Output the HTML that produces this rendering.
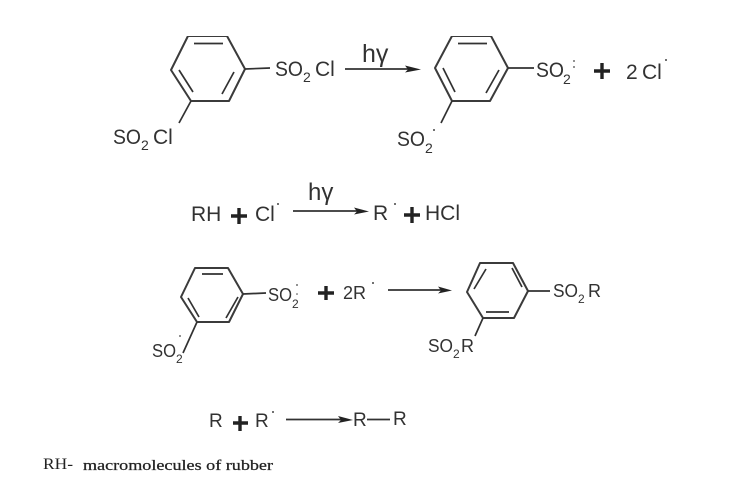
<!DOCTYPE html>
<html><head><meta charset="utf-8">
<style>
html,body{margin:0;padding:0;background:#fff;width:738px;height:486px;overflow:hidden}
svg{display:block}
text{font-family:"Liberation Sans",sans-serif;fill:#333}
.l{stroke:#3a3a3a;stroke-width:2;fill:none;stroke-linejoin:round}
.t{stroke:#333;stroke-width:1.7;fill:none}
.p{stroke:#222;stroke-width:3.4;fill:none}
.h{fill:#222}
.d{fill:#444}
</style></head><body>
<svg width="738" height="486" viewBox="0 0 738 486" xmlns="http://www.w3.org/2000/svg">
<defs><filter id="b" x="0" y="0" width="100%" height="100%"><feGaussianBlur stdDeviation="0.35"/></filter></defs>
<g filter="url(#b)">

<!-- Ring 1 -->
<polygon class="l" points="188,36 227,36 245,69 229,101 191,101 171,70"/>
<path class="t" d="M194,43.500H223M234,72L222,94M179,70L193,92M245,69L270,68M191,101L179,123"/>
<text x="275" y="76" font-size="21" textLength="28" lengthAdjust="spacingAndGlyphs">SO</text><text x="303" y="82" font-size="14">2</text><text x="315" y="76" font-size="21">Cl</text>
<text x="113" y="144" font-size="21" textLength="28" lengthAdjust="spacingAndGlyphs">SO</text><text x="141" y="150" font-size="14">2</text><text x="153" y="144" font-size="21">Cl</text>

<!-- Arrow 1 -->
<path class="t" d="M345,69H412"/><polygon class="h" points="405,65.500 421,69.500 405,72.500 408,69.500"/>
<text x="362" y="62" font-size="25">hγ</text>

<!-- Ring 2 -->
<polygon class="l" points="452,36 491,36 508,68 490,101 452,101 435,68"/>
<path class="t" d="M458,43.500H487M499,70L486,93M443,68L455,92M508,68L534,68M452,101L441,123"/>
<text x="536" y="77" font-size="21" textLength="28" lengthAdjust="spacingAndGlyphs">SO</text><text x="563" y="84" font-size="14">2</text><circle class="d" cx="574" cy="61" r=".9"/><circle class="d" cx="574" cy="67" r=".9"/>
<path class="p" d="M594,71H610M602,63V79"/>
<text x="626" y="79" font-size="21">2</text><text x="642" y="79" font-size="21">Cl</text><circle class="d" cx="666" cy="60" r="1"/>
<text x="397" y="146" font-size="21" textLength="28" lengthAdjust="spacingAndGlyphs">SO</text><text x="425" y="153" font-size="14">2</text><circle class="d" cx="434" cy="130" r="1"/>

<!-- Row 2 -->
<text x="191" y="221" font-size="21">RH</text>
<path class="p" d="M231,216H247M239,208V224"/>
<text x="255" y="221" font-size="21">Cl</text><circle class="d" cx="278" cy="204" r="1"/>
<path class="t" d="M293,211H362"/><polygon class="h" points="354,207.500 369,211.500 354,214.500 357,211.500"/>
<text x="308" y="200" font-size="24">hγ</text>
<text x="373" y="220" font-size="21">R</text><circle class="d" cx="395" cy="204" r="1"/>
<path class="p" d="M404,215H420M412,207V223"/>
<text x="425" y="220" font-size="21">HCl</text>

<!-- Ring 3 -->
<polygon class="l" points="195,268 228,268 243,294 229,322 197,322 181,297"/>
<path class="t" d="M202,274H223M238,297L226,318M188,298L199,317M243,294L266,293M197,322L183,353"/>
<text x="268" y="301" font-size="18" textLength="24" lengthAdjust="spacingAndGlyphs">SO</text><text x="292" y="308" font-size="12">2</text><circle class="d" cx="297" cy="285" r=".9"/><circle class="d" cx="297" cy="294" r=".8"/>
<path class="p" d="M318,293H334M326,286V300"/>
<text x="343" y="299" font-size="18">2R</text><circle class="d" cx="373" cy="283" r="1"/>
<text x="152" y="357" font-size="18" textLength="24" lengthAdjust="spacingAndGlyphs">SO</text><text x="176" y="363" font-size="12">2</text><circle class="d" cx="180" cy="336" r=".9"/>

<!-- Arrow 3 -->
<path class="t" d="M388,290H444"/><polygon class="h" points="438,286.500 452,290.500 438,293.500 441,290.500"/>

<!-- Ring 4 -->
<polygon class="l" points="480,263 513,263 528,291 514,318 483,318 467,292"/>
<path class="t" d="M486,269L474,289M512,268L522,287M486,312H509M528,291L550,291M483,318L475,336"/>
<text x="553" y="297" font-size="18" textLength="25" lengthAdjust="spacingAndGlyphs">SO</text><text x="578" y="303" font-size="12">2</text><text x="588" y="297" font-size="18">R</text>
<text x="428" y="352" font-size="18" textLength="25" lengthAdjust="spacingAndGlyphs">SO</text><text x="453" y="358" font-size="12">2</text><text x="461" y="352" font-size="18">R</text>

<!-- Row 5 -->
<text x="209" y="427" font-size="19">R</text>
<path class="p" d="M233,423H248M240,416V431"/>
<text x="255" y="427" font-size="19">R</text><circle class="d" cx="273" cy="412" r="1"/>
<path class="t" d="M286,419.500H346"/><polygon class="h" points="338,416 353,420 338,423 341,420"/>
<text x="353" y="426" font-size="19">R</text>
<path class="t" d="M367,419.500H390"/>
<text x="393" y="425" font-size="19">R</text>

<!-- Footer -->
<text x="43" y="469" style="font-family:'Liberation Serif',serif;fill:#222" font-size="16" textLength="30" lengthAdjust="spacingAndGlyphs">RH-</text>
<text x="83" y="470" style="font-family:'Liberation Serif',serif;fill:#222;stroke:#222;stroke-width:.25" font-size="15" textLength="190" lengthAdjust="spacingAndGlyphs">macromolecules of rubber</text>
</g>
</svg>
</body></html>
